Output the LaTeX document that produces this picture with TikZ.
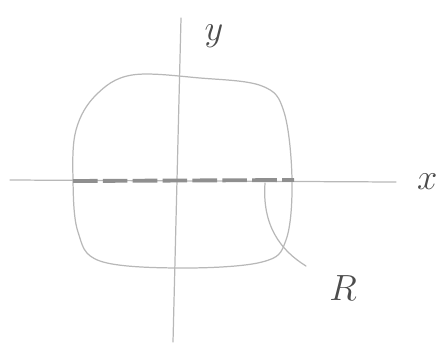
\documentclass[tikz,border=0pt]{standalone}
\usepackage{tikz}
\usetikzlibrary{positioning}
\definecolor{pencil}{gray}{0.72}
\definecolor{lead}{gray}{0.45}
\tikzstyle{stroke} = [draw=pencil, line width=0.7pt, line cap=round]
\tikzstyle{cut} = [draw=lead!80, line width=2.2pt, dash pattern=on 14pt off 3pt]
\tikzstyle{lbl} = [text=black!70, font=\huge]

\begin{document}
\begin{tikzpicture}[x=0.02cm, y=-0.02cm]
    \useasboundingbox (0,0) rectangle (445,349);
    % axes
    \coordinate (xl) at (10,180);
    \coordinate (xr) at (396,182);
    \coordinate (yt) at (181,18);
    \coordinate (yb) at (173,342);
    \draw[stroke] (xl) -- (xr);
    \draw[stroke] (yt) -- (yb);
    \node[lbl, right=0.3cm of xr] (xlab) {$x$};
    \node[lbl] (ylab) at (214,36) {$y$};
    % region
    \draw[stroke] plot[smooth cycle, tension=0.6] coordinates {(132,75) (200,78) (262,86) (284,112) (292,180)
      (286,240) (262,262) (180,268) (100,261) (78,232) (73,180) (76,130) (96,95)};
    % segment on the axis
    \coordinate (sl) at (73,181);
    \coordinate (sr) at (294,180);
    \draw[cut] (sl) -- (sr);
    % label of the region
    \node[lbl] (rlab) at (343,288) {$R$};
    \coordinate (rp) at (265,183);
    \draw[stroke] (rp) .. controls (262,225) and (280,250) .. (306,266);
\end{tikzpicture}
\end{document}
